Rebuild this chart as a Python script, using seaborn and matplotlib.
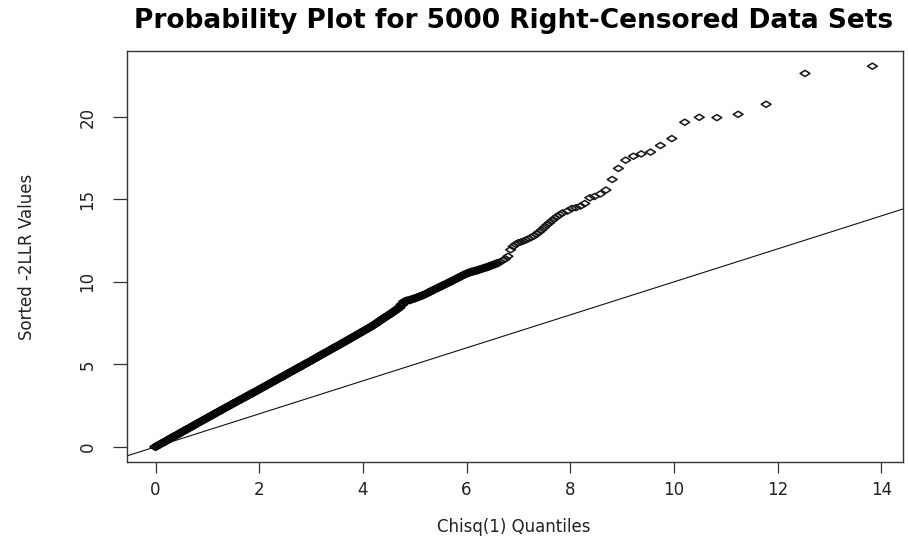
import matplotlib
matplotlib.use("Agg")
import matplotlib.pyplot as plt
import pandas as pd
import seaborn as sns
from matplotlib.path import Path
from matplotlib.markers import MarkerStyle

# Chi-square(1) theoretical quantiles (x) and sorted -2LLR values (y)
# Bulk of the sample, where the points merge into a continuous band
bulk_q = [
    0.00, 0.05, 0.10, 0.15, 0.20, 0.25, 0.30, 0.35, 0.40, 0.45, 0.50,
    0.55, 0.60, 0.65, 0.70, 0.75, 0.80, 0.85, 0.90, 0.95, 1.00,
    1.05, 1.10, 1.15, 1.20, 1.25, 1.30, 1.35, 1.40, 1.45, 1.50,
    1.55, 1.60, 1.65, 1.70, 1.75, 1.80, 1.85, 1.90, 1.95, 2.00,
    2.05, 2.10, 2.15, 2.20, 2.25, 2.30, 2.35, 2.40, 2.45, 2.50,
    2.55, 2.60, 2.65, 2.70, 2.75, 2.80, 2.85, 2.90, 2.95, 3.00,
    3.05, 3.10, 3.15, 3.20, 3.25, 3.30, 3.35, 3.40, 3.45, 3.50,
    3.55, 3.60, 3.65, 3.70, 3.75, 3.80, 3.85, 3.90, 3.95, 4.00,
    4.05, 4.10, 4.15, 4.20, 4.25, 4.30, 4.35, 4.40, 4.45, 4.50,
    4.55, 4.60, 4.65, 4.70, 4.75, 4.80, 4.85, 4.90, 4.95, 5.00,
    5.05, 5.10, 5.15, 5.20, 5.25, 5.30, 5.35, 5.40, 5.45, 5.50,
    5.55, 5.60, 5.65, 5.70, 5.75, 5.80, 5.85, 5.90, 5.95, 6.00,
    6.05, 6.10, 6.15, 6.20, 6.25, 6.30, 6.35, 6.40, 6.45, 6.50,
    6.55, 6.60,
]
bulk_v = [
    0.00, 0.09, 0.18, 0.26, 0.35, 0.44, 0.53, 0.62, 0.70, 0.79, 0.88,
    0.97, 1.06, 1.14, 1.23, 1.32, 1.41, 1.50, 1.58, 1.67, 1.76,
    1.85, 1.93, 2.02, 2.11, 2.19, 2.28, 2.37, 2.45, 2.54, 2.63,
    2.71, 2.80, 2.88, 2.97, 3.05, 3.14, 3.22, 3.31, 3.39, 3.48,
    3.57, 3.65, 3.74, 3.83, 3.92, 4.00, 4.09, 4.18, 4.26, 4.35,
    4.44, 4.53, 4.61, 4.70, 4.79, 4.87, 4.96, 5.05, 5.13, 5.22,
    5.31, 5.40, 5.49, 5.58, 5.67, 5.75, 5.84, 5.93, 6.02, 6.10,
    6.19, 6.28, 6.37, 6.46, 6.55, 6.64, 6.73, 6.82, 6.91, 7.00,
    7.09, 7.18, 7.27, 7.37, 7.47, 7.58, 7.69, 7.79, 7.90, 8.00,
    8.10, 8.21, 8.32, 8.44, 8.62, 8.80, 8.86, 8.90, 8.95, 9.00,
    9.06, 9.12, 9.18, 9.25, 9.33, 9.41, 9.49, 9.57, 9.64, 9.72,
    9.80, 9.87, 9.95, 10.03, 10.11, 10.19, 10.27, 10.35, 10.43, 10.50,
    10.56, 10.61, 10.66, 10.70, 10.75, 10.80, 10.85, 10.90, 10.96, 11.02,
    11.08, 11.14,
]
# Upper part, where individual points start to be distinguishable
tail_q = [6.65, 6.70, 6.75, 6.80, 6.85, 6.90, 6.95, 7.00,
          7.05, 7.10, 7.15, 7.20, 7.25, 7.30, 7.35, 7.40, 7.45, 7.50,
          7.55, 7.60, 7.65, 7.70, 7.75, 7.80, 7.85,
          7.95, 8.03, 8.11, 8.20, 8.28, 8.38, 8.47, 8.58, 8.69, 8.81,
          8.93, 9.07, 9.22, 9.37, 9.55, 9.74, 9.96, 10.21, 10.49, 10.83,
          11.24, 11.78, 12.53, 13.83]
tail_v = [11.22, 11.30, 11.40, 11.55, 11.95, 12.15, 12.28, 12.38,
          12.42, 12.48, 12.55, 12.62, 12.70, 12.78, 12.90, 13.02, 13.15, 13.30,
          13.45, 13.58, 13.72, 13.85, 13.97, 14.08, 14.18,
          14.30, 14.45, 14.50, 14.60, 14.75, 15.10, 15.18, 15.33, 15.57, 16.21,
          16.88, 17.38, 17.62, 17.76, 17.87, 18.27, 18.69, 19.68, 19.98, 19.96,
          20.16, 20.77, 22.64, 23.08]

x_ticks = [0, 2, 4, 6, 8, 10, 12, 14]
y_ticks = [0, 5, 10, 15, 20]

bulk = pd.DataFrame({"quantile": bulk_q, "value": bulk_v})
tail = pd.DataFrame({"quantile": tail_q, "value": tail_v})

sns.set_theme(style="ticks")
plt.rcParams["font.family"] = ["DejaVu Sans"]

fig = plt.figure(figsize=(9.08, 5.41), dpi=100)
ax = fig.add_axes([127 / 908, 1 - 462 / 541, 776 / 908, 411 / 541])

# open, slightly flattened diamond marker
diamond = MarkerStyle(Path([(-1, 0), (0, 0.62), (1, 0), (0, -0.62), (-1, 0)],
                           [Path.MOVETO, Path.LINETO, Path.LINETO,
                            Path.LINETO, Path.CLOSEPOLY]))

# thousands of overlapping points saturate into a solid band
sns.scatterplot(data=bulk, x="quantile", y="value", ax=ax, marker=diamond,
                s=50, facecolor="none", edgecolor="#050505", linewidth=1.9,
                legend=False)
sns.scatterplot(data=tail, x="quantile", y="value", ax=ax, marker=diamond,
                s=50, facecolor="none", edgecolor="#151515", linewidth=1.1,
                legend=False)

# reference line y = x
ax.axline((0, 0), slope=1, color="#111111", linewidth=0.8)

ax.set_xlim(-0.55, 14.42)
ax.set_ylim(-0.92, 24.0)
ax.set_xticks(x_ticks)
ax.set_yticks(y_ticks)
ax.set_xticklabels([str(t) for t in x_ticks])
ax.set_yticklabels([str(t) for t in y_ticks], rotation=90, va="center")

for side in ["top", "right", "bottom", "left"]:
    ax.spines[side].set_visible(True)
    ax.spines[side].set_color("#333333")
    ax.spines[side].set_linewidth(1.0)

ax.tick_params(axis="x", length=8, width=0.9, color="#333333", pad=6,
               labelsize=12, labelcolor="#222222")
ax.tick_params(axis="y", length=10, width=0.9, color="#333333", pad=12,
               labelsize=12, labelcolor="#222222")

ax.set_xlabel("Chisq(1) Quantiles", fontsize=12, color="#222222")
ax.set_ylabel("Sorted -2LLR Values", fontsize=12, color="#222222")
ax.xaxis.set_label_coords(0.499, (462 - 527) / 411)
ax.xaxis.label.set_va("center")
ax.yaxis.set_label_coords((27 - 127) / 776, 0.5)
ax.yaxis.label.set_va("center")

fig.text(514 / 908, 1 - 21 / 541,
         "Probability Plot for 5000 Right-Censored Data Sets",
         ha="center", va="center", fontsize=19, fontweight="bold",
         color="black")

fig.savefig("out.png", dpi=100, facecolor="white")
